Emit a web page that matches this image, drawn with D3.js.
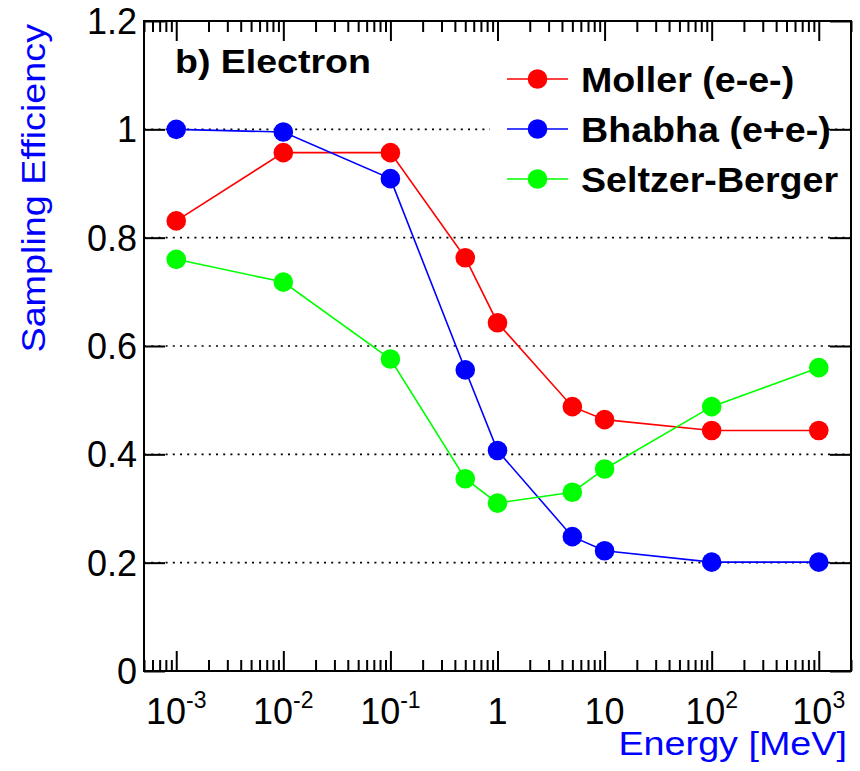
<!DOCTYPE html>
<html>
<head>
<meta charset="utf-8">
<script src="https://cdn.jsdelivr.net/npm/d3@7"></script>
<style>
  body { margin: 0; background: #fff; }
  svg { font-family: "Liberation Sans", Arial, Helvetica, sans-serif; }
</style>
</head>
<body>
<svg id="chart" width="860" height="771"></svg>
<script>
// values
const energy  = [1e-3, 1e-2, 1e-1, 0.5, 1, 5, 10, 100, 1000];
const moller  = [0.831, 0.957, 0.957, 0.763, 0.643, 0.488, 0.464, 0.444, 0.444];
const bhabha  = [1.0, 0.995, 0.909, 0.556, 0.407, 0.248, 0.222, 0.201, 0.201];
const seltzer = [0.760, 0.718, 0.576, 0.355, 0.310, 0.330, 0.373, 0.488, 0.560];

const seriesNames  = ["Moller (e-e-)", "Bhabha (e+e-)", "Seltzer-Berger"];
const seriesColors = ["#ff0000", "#0000ff", "#00ff00"];
const yTicks = [0, 0.2, 0.4, 0.6, 0.8, 1, 1.2];
const xMajor = [1e-3, 1e-2, 1e-1, 1, 10, 100, 1000];
const xLabels = [["10", "-3"], ["10", "-2"], ["10", "-1"], ["1", ""], ["10", ""], ["10", "2"], ["10", "3"]];

const marL = 144, marT = 21;
const w = 707, h = 650;

const svg = d3.select("#chart");
const g = svg.append("g").attr("transform", `translate(${marL}, ${marT})`);

const x = d3.scaleLog().domain([5e-4, 2e3]).range([0, w]);
const y = d3.scaleLinear().domain([0, 1.2]).range([h, 0]);

// minor ticks 2..9 per decade inside the domain
let xMinor = [];
for (let e = -4; e <= 3; e++) {
  for (let k = 2; k <= 9; k++) {
    const v = k * Math.pow(10, e);
    if (v >= 5e-4 && v <= 2e3) xMinor.push(v);
  }
}

// dotted grid
g.selectAll("line.grid")
  .data(yTicks.filter(d => d > 0 && d < 1.2))
  .enter()
  .append("line")
  .attr("class", "grid")
  .attr("x1", 0).attr("x2", w)
  .attr("y1", d => y(d)).attr("y2", d => y(d))
  .attr("stroke", "#000")
  .attr("stroke-width", 1.6)
  .attr("stroke-dasharray", "2,5.2");

// legend background covers the grid
g.append("rect")
  .attr("x", 346).attr("y", 30)
  .attr("width", 336).attr("height", 182)
  .attr("fill", "#fff");

// axes
function styleAxis(sel) {
  sel.select(".domain").remove();
  sel.selectAll(".tick line").attr("stroke", "#000").attr("stroke-width", 2);
  sel.selectAll(".tick text").remove();
}

g.append("g").attr("transform", `translate(0, ${h})`)
  .call(d3.axisBottom(x).tickValues(xMajor).tickSize(-20)).call(styleAxis);
g.append("g").attr("transform", `translate(0, ${h})`)
  .call(d3.axisBottom(x).tickValues(xMinor).tickSize(-11)).call(styleAxis);
g.append("g")
  .call(d3.axisTop(x).tickValues(xMajor).tickSize(-20)).call(styleAxis);
g.append("g")
  .call(d3.axisTop(x).tickValues(xMinor).tickSize(-11)).call(styleAxis);
g.append("g")
  .call(d3.axisLeft(y).tickValues(yTicks).tickSize(-21)).call(styleAxis);
g.append("g").attr("transform", `translate(${w}, 0)`)
  .call(d3.axisRight(y).tickValues(yTicks).tickSize(-21)).call(styleAxis);

// frame
g.append("rect")
  .attr("width", w).attr("height", h)
  .attr("fill", "none").attr("stroke", "#000").attr("stroke-width", 2);

// y tick labels
g.selectAll("text.ylab")
  .data(yTicks)
  .enter()
  .append("text")
  .attr("class", "ylab")
  .attr("x", -7)
  .attr("y", d => y(d) + 13)
  .attr("text-anchor", "end")
  .attr("font-size", 36)
  .text(d => d3.format("~g")(d));

// x tick labels, exponent as its own small text
xMajor.forEach((d, i) => {
  const base = g.append("text")
    .attr("y", h + 53)
    .attr("font-size", 36)
    .text(xLabels[i][0]);
  const bw = base.node().getComputedTextLength();
  let sw = 0, sup = null;
  if (xLabels[i][1]) {
    sup = g.append("text")
      .attr("y", h + 37)
      .attr("font-size", 23)
      .text(xLabels[i][1]);
    sw = sup.node().getComputedTextLength();
  }
  const x0 = x(d) - (bw + sw) / 2;
  base.attr("x", x0);
  if (sup) sup.attr("x", x0 + bw);
});

// axis titles (the original font is a bit wider than Liberation Sans)
svg.append("text")
  .attr("transform", "translate(45, 24) rotate(-90) scale(1.11, 1)")
  .attr("text-anchor", "end")
  .attr("font-size", 34)
  .attr("fill", "#0000ff")
  .text("Sampling Efficiency");

svg.append("text")
  .attr("transform", "translate(847, 755) scale(1.11, 1)")
  .attr("text-anchor", "end")
  .attr("font-size", 34)
  .attr("fill", "#0000ff")
  .text("Energy [MeV]");

// panel label
svg.append("text")
  .attr("transform", "translate(175, 73) scale(1.12, 1)")
  .attr("font-size", 33.5)
  .attr("font-weight", "bold")
  .text("b) Electron");

// series
const allSeries = [moller, bhabha, seltzer];
const line = d3.line().x(d => x(d[0])).y(d => y(d[1]));

allSeries.forEach((vals, si) => {
  const pts = energy.map((e, i) => [e, vals[i]]);
  g.append("path")
    .datum(pts)
    .attr("fill", "none")
    .attr("stroke", seriesColors[si])
    .attr("stroke-width", 1.6)
    .attr("d", line);
});

allSeries.forEach((vals, si) => {
  g.selectAll(null)
    .data(energy.map((e, i) => [e, vals[i]]))
    .enter()
    .append("circle")
    .attr("cx", d => x(d[0]))
    .attr("cy", d => y(d[1]))
    .attr("r", 9.8)
    .attr("fill", seriesColors[si]);
});

// legend
const leg = svg.append("g").attr("transform", "translate(507, 79)");
const rows = leg.selectAll("g")
  .data(seriesNames)
  .enter()
  .append("g")
  .attr("transform", (d, i) => `translate(0, ${i * 50})`);
rows.append("line")
  .attr("x1", 0).attr("x2", 61)
  .attr("stroke", (d, i) => seriesColors[i])
  .attr("stroke-width", 1.6);
rows.append("circle")
  .attr("cx", 30.5).attr("r", 9.8)
  .attr("fill", (d, i) => seriesColors[i]);
rows.append("text")
  .attr("transform", "translate(74, 12.5) scale(1.075, 1)")
  .attr("font-size", 35)
  .attr("font-weight", "bold")
  .text(d => d);
</script>
</body>
</html>
